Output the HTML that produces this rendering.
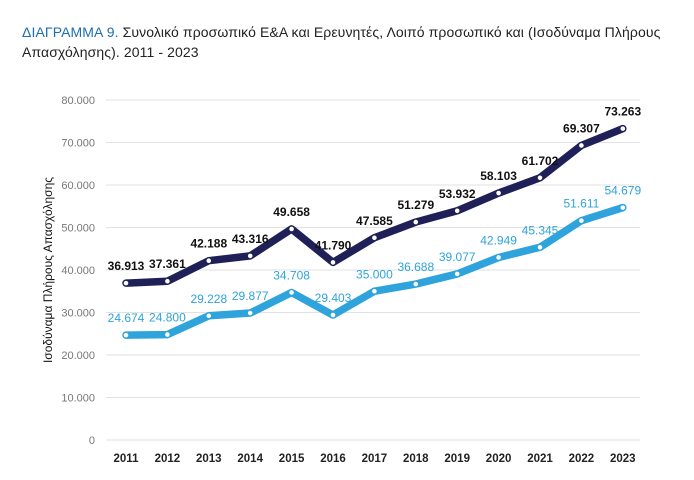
<!DOCTYPE html>
<html><head><meta charset="utf-8"><style>
body{margin:0;background:#fff;width:694px;height:480px;overflow:hidden;font-family:"Liberation Sans",sans-serif}
#title{position:absolute;left:22px;top:22px;width:660px;font-size:14px;line-height:20px;color:#222;letter-spacing:0.1px}
#title span{color:#1d6fb0}
</style></head><body>
<div id="title"><span>ΔΙΑΓΡΑΜΜΑ 9.</span> Συνολικό προσωπικό Ε&amp;Α και Ερευνητές, Λοιπό προσωπικό και (Ισοδύναμα Πλήρους Απασχόλησης). 2011 - 2023</div>
<svg id="chart" width="694" height="480" style="position:absolute;left:0;top:0"></svg>
<script>
const years=["2011","2012","2013","2014","2015","2016","2017","2018","2019","2020","2021","2022","2023"];
const total=[36913,37361,42188,43316,49658,41790,47585,51279,53932,58103,61702,69307,73263];
const researchers=[24674,24800,29228,29877,34708,29403,35000,36688,39077,42949,45345,51611,54679];
const yTicks=[0,10000,20000,30000,40000,50000,60000,70000,80000];
const NS="http://www.w3.org/2000/svg";
const svg=document.getElementById('chart');
const x=i=>126+i*41.4;
const y=v=>440-v/80000*340;
const fmt=v=>v===0?"0":(v/1000).toFixed(3);
function el(t,a,txt){const e=document.createElementNS(NS,t);for(const k in a)e.setAttribute(k,a[k]);if(txt!==undefined)e.textContent=txt;svg.appendChild(e);return e;}
yTicks.forEach(t=>{
 const g=el('line',{x1:106,x2:640,y1:y(t),y2:y(t),stroke:'#e2e2e2','stroke-width':1});
 
 
 const l=el('text',{x:95,y:y(t)+4,'text-anchor':'end','font-size':11,fill:'#777'},fmt(t));
 
 
});
years.forEach((yr,i)=>{
 const l=el('text',{x:x(i),y:462,'text-anchor':'middle','font-size':11.5,'font-weight':'bold',fill:'#222'},yr);
 
 
});
const yt=el('text',{x:0,y:0,transform:'translate(52,270) rotate(-90)','text-anchor':'middle','font-size':12,fill:'#111'},'Ισοδύναμα Πλήρους Απασχόλησης');


function series(data,color,labelColor,name,bold){
 const p=el('polyline',{points:data.map((v,i)=>x(i)+','+y(v)).join(' '),fill:'none',stroke:color,'stroke-width':7.5,'stroke-linejoin':'round','stroke-linecap':'round'});
 
 
 data.forEach((v,i)=>{
  const c=el('circle',{cx:x(i),cy:y(v),r:2.8,fill:'#fff',stroke:color,'stroke-width':1});
  
  
  const t=el('text',{x:x(i),y:y(v)-13,'text-anchor':'middle','font-size':12,'font-weight':bold?'bold':'normal',fill:labelColor},fmt(v));
  
  
 });
}
series(total,'#1f2057','#111','total-staff',true);
series(researchers,'#2ea3dc','#2ea3dc','researchers',false);
</script>
</body></html>
